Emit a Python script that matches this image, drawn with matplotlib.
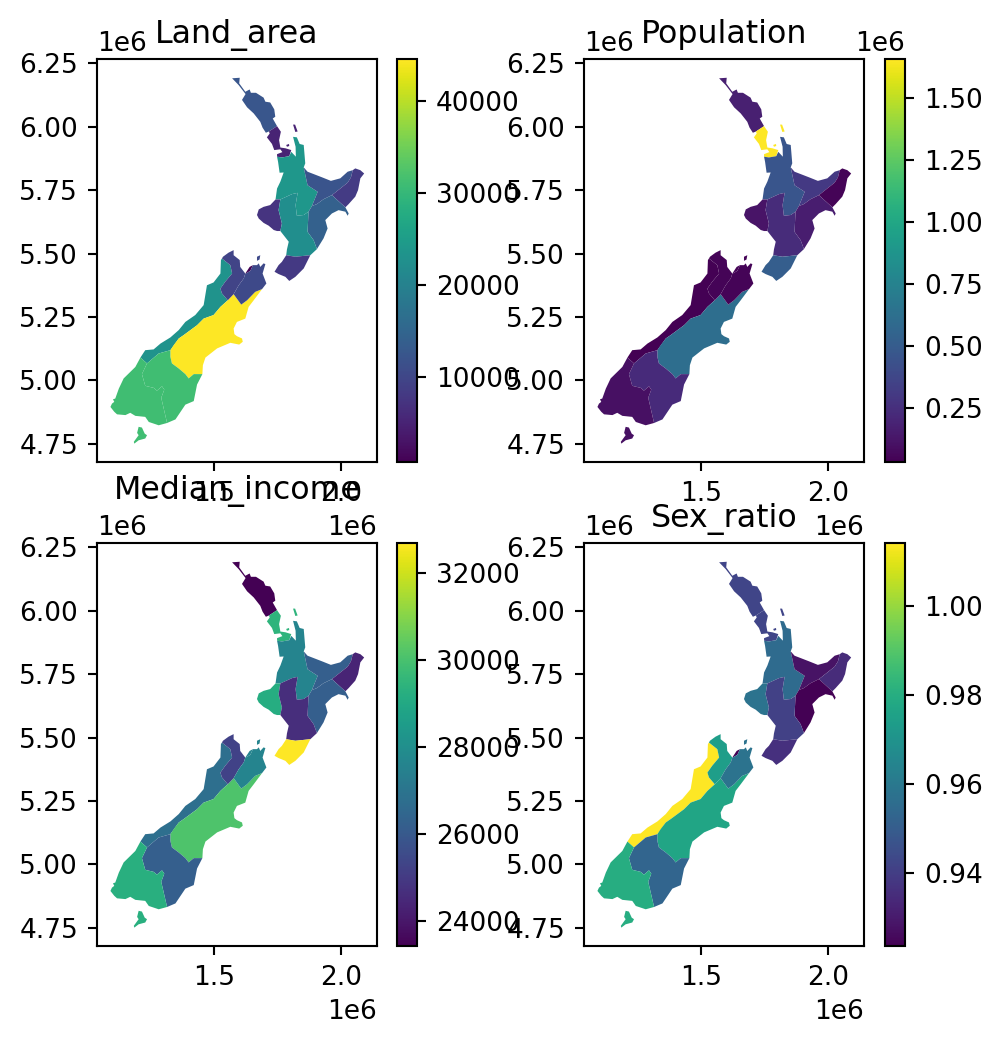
import matplotlib
matplotlib.use("Agg")
import matplotlib.pyplot as plt
from matplotlib.collections import PolyCollection

plt.rcParams["font.size"] = 9.5
plt.rcParams["axes.linewidth"] = 0.76
plt.rcParams["xtick.major.size"] = 3.3
plt.rcParams["ytick.major.size"] = 3.3
plt.rcParams["xtick.major.width"] = 0.76
plt.rcParams["ytick.major.width"] = 0.76
plt.rcParams["axes.titlepad"] = 5.7

# region outlines in NZTM km
northland = [[(1570,6192),(1600,6194),(1598,6172),(1622,6139),(1639,6148),(1644,6135),(1664,6135),(1694,6116),(1701,6100),(1720,6097),(1736,6070),(1740,6041),(1730,6034),(1747,6004),(1715,5983),(1703,5978),(1690,5998),(1681,6021),(1655,6054),(1629,6078),(1609,6107),(1623,6130),(1596,6165)]]
auckland = [[(1715,5983),(1747,6004),(1762,5982),(1755,5949),(1760,5920),(1780,5917),(1803,5910),(1795,5886),(1766,5881),(1747,5884),(1747,5894),(1768,5902),(1760,5913),(1736,5910),(1727,5934),(1707,5960),(1718,5975)],
            [(1810,6010),(1818,6010),(1828,5983),(1819,5981)],
            [(1783,5930),(1794,5934),(1795,5926),(1786,5923)]]
waikato = [[(1747,5884),(1766,5881),(1795,5886),(1803,5903),(1821,5884),(1820,5923),(1810,5962),(1825,5960),(1836,5934),(1852,5930),(1858,5858),(1852,5842),(1867,5772),(1907,5746),(1884,5690),(1871,5668),(1852,5655),(1825,5652),(1820,5694),(1828,5742),(1806,5737),(1760,5716),(1741,5716),(1747,5759),(1760,5786),(1773,5822),(1757,5821),(1751,5864)]]
bay_of_plenty = [[(1852,5842),(1867,5825),(1924,5803),(1959,5789),(1996,5799),(2025,5825),(2045,5831),(2038,5803),(2025,5782),(1963,5733),(1930,5717),(1904,5698),(1884,5690),(1907,5746),(1867,5772)]]
gisborne = [[(2045,5831),(2055,5838),(2075,5831),(2090,5818),(2075,5799),(2066,5753),(2055,5727),(2029,5698),(2016,5685),(1963,5733),(2025,5782),(2038,5803)]]
hawkes_bay = [[(1871,5668),(1884,5690),(1904,5698),(1930,5717),(1963,5733),(2016,5685),(2029,5661),(2025,5652),(2016,5668),(1989,5674),(1963,5661),(1937,5635),(1946,5602),(1930,5563),(1904,5521),(1891,5556),(1867,5589)]]
taranaki = [[(1741,5716),(1760,5716),(1753,5674),(1766,5622),(1760,5592),(1747,5592),(1734,5596),(1714,5613),(1694,5624),(1675,5641),(1668,5655),(1675,5677),(1694,5687),(1720,5694)]]
manawatu = [[(1760,5716),(1806,5737),(1828,5742),(1820,5694),(1825,5652),(1852,5655),(1871,5668),(1867,5589),(1891,5556),(1904,5521),(1878,5497),(1819,5491),(1783,5497),(1786,5520),(1793,5550),(1760,5592),(1766,5622),(1753,5674)]]
wellington = [[(1783,5497),(1819,5491),(1878,5497),(1852,5445),(1819,5412),(1795,5396),(1780,5412),(1753,5423),(1737,5432),(1753,5458),(1766,5471)]]
tasman = [[(1576,5517),(1576,5497),(1600,5478),(1602,5451),(1622,5425),(1616,5406),(1596,5379),(1576,5344),(1553,5320),(1530,5347),(1524,5366),(1543,5393),(1570,5425),(1563,5458),(1530,5484),(1534,5491),(1556,5507)]]
nelson = [[(1622,5425),(1639,5451),(1652,5458),(1642,5436),(1629,5428)]]
marlborough = [[(1622,5425),(1629,5428),(1642,5436),(1652,5458),(1668,5458),(1675,5465),(1681,5451),(1694,5465),(1701,5462),(1690,5425),(1705,5386),(1688,5364),(1661,5353),(1629,5320),(1606,5303),(1576,5344),(1596,5379),(1616,5406)],
               [(1668,5491),(1681,5497),(1678,5480),(1668,5475)]]
west_coast = [[(1530,5484),(1563,5458),(1570,5425),(1543,5393),(1524,5366),(1530,5347),(1553,5320),(1524,5294),(1497,5262),(1458,5248),(1432,5222),(1379,5183),(1360,5170),(1327,5124),(1281,5111),(1235,5072),(1209,5095),(1228,5124),(1261,5127),(1288,5150),(1327,5174),(1360,5203),(1386,5235),(1425,5262),(1458,5301),(1471,5379),(1497,5390),(1524,5425),(1526,5478)]]
canterbury = [[(1553,5320),(1576,5344),(1606,5303),(1629,5320),(1661,5353),(1688,5364),(1655,5320),(1635,5294),(1622,5248),(1589,5235),(1576,5209),(1579,5187),(1589,5179),(1609,5170),(1612,5157),(1598,5146),(1583,5149),(1563,5153),(1511,5131),(1465,5095),(1455,5065),(1453,5030),(1419,5030),(1399,5013),(1386,5030),(1360,5052),(1333,5072),(1327,5098),(1327,5124),(1340,5144),(1360,5170),(1379,5183),(1432,5222),(1458,5248),(1497,5262),(1524,5294)]]
otago = [[(1327,5124),(1281,5111),(1235,5072),(1215,5030),(1228,4984),(1261,4976),(1274,4965),(1294,4982),(1303,4969),(1291,4937),(1314,4838),(1347,4852),(1386,4910),(1419,4924),(1432,4989),(1453,5030),(1419,5030),(1399,5013),(1386,5030),(1360,5052),(1333,5072),(1327,5098)]]
southland = [[(1209,5095),(1235,5072),(1215,5030),(1228,4984),(1261,4976),(1274,4965),(1294,4982),(1303,4969),(1291,4937),(1314,4838),(1281,4829),(1242,4842),(1228,4862),(1189,4866),(1169,4878),(1150,4869),(1117,4872),(1106,4882),(1091,4901),(1097,4914),(1106,4921),(1101,4931),(1110,4934),(1124,4973),(1143,5013),(1189,5058)],
             [(1202,4823),(1215,4820),(1226,4796),(1235,4790),(1228,4777),(1202,4770),(1185,4757),(1183,4764),(1202,4790),(1196,4799)]]

outlines = [northland, auckland, waikato, bay_of_plenty, gisborne, hawkes_bay, taranaki, manawatu,
            wellington, west_coast, canterbury, otago, southland, tasman, nelson, marlborough]

# same order as outlines
land_area = [12500, 4941, 23900, 12071, 8385, 14137, 7254, 22220, 8048, 23245, 44595, 31186, 31196, 9594, 700, 10458]
population = [175500, 1657200, 460100, 299900, 48500, 164000, 118000, 234500, 513900, 32400, 612000, 224200, 97300, 51400, 50600, 46200]
median_income = [23424, 29450, 27590, 26200, 24350, 26200, 29170, 24630, 32690, 26760, 30100, 26200, 29260, 25250, 27600, 27600]
sex_ratio = [0.9424, 0.9424, 0.955, 0.928, 0.9349, 0.9238, 0.958, 0.9413, 0.9364, 1.0142, 0.977, 0.953, 0.98, 0.974, 0.9237, 0.958]

titles = ["Land_area", "Population", "Median_income", "Sex_ratio"]
columns = [land_area, population, median_income, sex_ratio]

W, H = 1001, 1044
fig = plt.figure(figsize=(W / 200, H / 200), dpi=200)


def px_axes(left, top, right, bottom):
    return fig.add_axes([left / W, 1 - bottom / H, (right - left) / W, (bottom - top) / H])


def fix_scale(x, y):
    # outlines were read with a slightly off tick spacing
    return (1500 + (x - 1500) * 1.0023) * 1e3, (6249.2 - (6250 - y) * 1.0038) * 1e3


boxes = [(97, 59, 377, 462), (584, 59, 864, 462), (97, 543, 377, 946), (584, 543, 864, 946)]
cbar_x = [(397, 417), (885, 905), (397, 417), (885, 905)]

for i in range(4):
    l, t, r, b = boxes[i]
    ax = px_axes(l, t, r, b)
    polys = []
    vals = []
    for parts, v in zip(outlines, columns[i]):
        for part in parts:
            polys.append([fix_scale(x, y) for x, y in part])
            vals.append(v)
    coll = PolyCollection(polys, array=vals, cmap="viridis", linewidths=0)
    ax.add_collection(coll)
    ax.set_xlim(1.037e6, 2.142e6)
    ax.set_ylim(4.678e6, 6.267e6)
    ax.set_title(titles[i])
    cax = px_axes(cbar_x[i][0], t, cbar_x[i][1], b)
    fig.colorbar(coll, cax=cax)

fig.savefig("out.png", dpi=200)
